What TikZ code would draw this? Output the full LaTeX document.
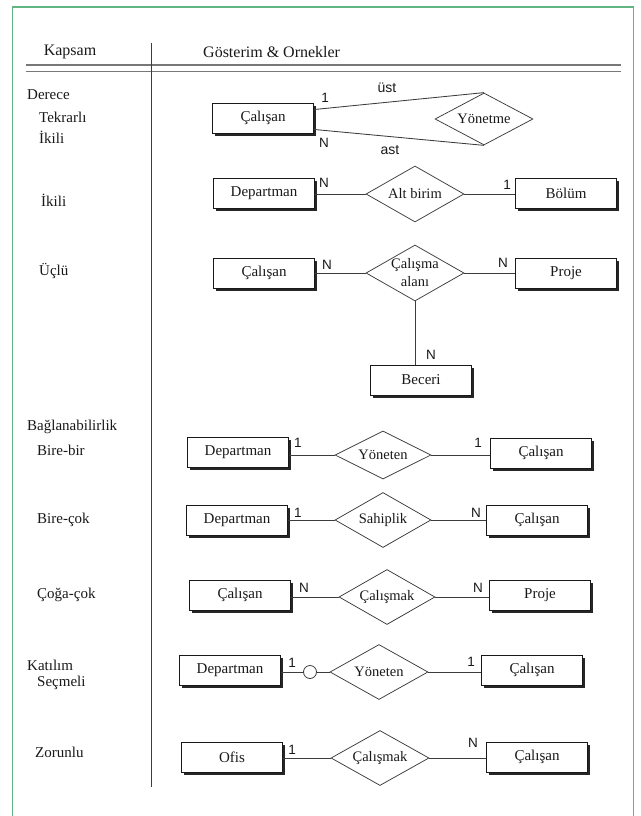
\documentclass[tikz,border=0pt]{standalone}
\usepackage{fontspec}
\setmainfont{Liberation Serif}
\newfontfamily\cardfont{Liberation Sans}
\usetikzlibrary{shapes.geometric,shadows}
\definecolor{frame}{RGB}{98,180,130}
\definecolor{ink}{RGB}{25,25,25}
\definecolor{wire}{RGB}{60,60,60}
\definecolor{rulegray}{RGB}{120,120,120}

\begin{document}
\begin{tikzpicture}[x=1pt,y=-1pt,
  ent/.style={draw=ink, line width=0.9pt, fill=white, minimum width=101pt,
    minimum height=30pt, inner sep=0pt, text=ink,
    font=\fontsize{15}{16}\selectfont,
    drop shadow={shadow xshift=2.8pt, shadow yshift=-2.8pt, fill=black!85, opacity=1}},
  reltext/.style={text=ink, inner sep=0pt, align=center,
    font=\fontsize{14.5}{18}\selectfont},
  rel/.style={diamond, draw=wire, line width=0.75pt, fill=white, inner sep=0pt,
    minimum width=97pt, minimum height=55pt, label={[reltext]center:#1}},
  conn/.style={draw=wire, line width=0.85pt},
  card/.style={text=ink, inner sep=0pt, font=\cardfont\fontsize{13.5}{15}\selectfont},
  cat/.style={anchor=west, text=ink, inner sep=0pt, font=\fontsize{15}{16}\selectfont},
  head/.style={text=ink, inner sep=0pt, font=\fontsize{16}{18}\selectfont}
]
% page and frame
\useasboundingbox (0,0) rectangle (640,816);
\fill[white] (0,0) rectangle (640,816);
\draw[frame, line width=1.8pt] (12.5,816) -- (12.5,7) -- (633.5,7) -- (633.5,816);

% table header and rules
\node[head] (hk) at (70,52) {Kapsam};
\node[head, anchor=west] (hg) at (203,52) {Gösterim \& Ornekler};
\draw[rulegray, line width=1.6pt] (26,65) -- (621,65);
\draw[rulegray, line width=1.6pt] (26,71.5) -- (621,71.5);
\draw[wire, line width=0.9pt] (151,43) -- (151,787);

% left column
\node[cat] (k1) at (27,95) {Derece};
\node[cat] (k2) at (39,117) {Tekrarlı};
\node[cat] (k3) at (39,137) {İkili};
\node[cat] (k4) at (41,200) {İkili};
\node[cat] (k5) at (39,271) {Üçlü};
\node[cat] (k6) at (27,427) {Bağlanabilirlik};
\node[cat] (k7) at (37,450) {Bire-bir};
\node[cat] (k8) at (37,520) {Bire-çok};
\node[cat] (k9) at (37,595) {Çoğa-çok};
\node[cat] (k10) at (27,665) {Katılım};
\node[cat] (k11) at (37,683) {Seçmeli};
\node[cat] (k12) at (35,752) {Zorunlu};

% recursive relationship
\node[ent] (e1) at (263,118) {Çalışan};
\node[rel=Yönetme, minimum width=98pt, minimum height=52pt] (r1) at (484,119) {};
\draw[conn] ([yshift=-7pt]e1.north east) -- (r1.north);
\draw[conn] ([yshift=4pt]e1.south east) -- (r1.south);
\node[card] (c1a) at (325,98) {1};
\node[card, font=\cardfont\fontsize{14}{15}\selectfont] (c1b) at (387,88) {üst};
\node[card] (c1c) at (324,143) {N};
\node[card, font=\cardfont\fontsize{14}{15}\selectfont] (c1d) at (390,150) {ast};

% binary relationship
\node[ent] (e2a) at (264,193) {Departman};
\node[rel=Alt birim, minimum width=98pt, minimum height=56pt] (r2) at (415,194) {};
\node[ent] (e2b) at (566,193) {Bölüm};
\draw[conn] (r2.west -| e2a.east) -- (r2.west);
\draw[conn] (r2.east) -- (r2.east -| e2b.west);
\node[card] (c2a) at (324,183) {N};
\node[card] (c2b) at (507,185) {1};

% ternary relationship
\node[ent] (e3a) at (264,273) {Çalışan};
\node[rel={Çalışma\\alanı}, minimum width=98pt, minimum height=56pt] (r3) at (415,273) {};
\node[ent] (e3b) at (566,273) {Proje};
\node[ent] (e3c) at (421,380) {Beceri};
\draw[conn] (r3.west -| e3a.east) -- (r3.west);
\draw[conn] (r3.east) -- (r3.east -| e3b.west);
\draw[conn] (r3.south) -- (r3.south |- e3c.north);
\node[card] (c3a) at (327,265) {N};
\node[card] (c3b) at (503,263) {N};
\node[card] (c3c) at (431,355) {N};

% one-to-one
\node[ent] (e4a) at (238,452) {Departman};
\node[rel=Yöneten, minimum width=96pt, minimum height=48pt] (r4) at (383,455) {};
\node[ent] (e4b) at (541,453) {Çalışan};
\draw[conn] (r4.west -| e4a.east) -- (r4.west);
\draw[conn] (r4.east) -- (r4.east -| e4b.west);
\node[card] (c4a) at (298,443) {1};
\node[card] (c4b) at (478,443) {1};

% one-to-many
\node[ent] (e5a) at (237,520) {Departman};
\node[rel=Sahiplik, minimum width=96pt] (r5) at (383,520) {};
\node[ent] (e5b) at (537,520) {Çalışan};
\draw[conn] (r5.west -| e5a.east) -- (r5.west);
\draw[conn] (r5.east) -- (r5.east -| e5b.west);
\node[card] (c5a) at (298,513) {1};
\node[card] (c5b) at (476,513) {N};

% many-to-many
\node[ent] (e6a) at (240,595) {Çalışan};
\node[rel=Çalışmak, minimum width=96pt] (r6) at (387,597) {};
\node[ent] (e6b) at (540,595) {Proje};
\draw[conn] (r6.west -| e6a.east) -- (r6.west);
\draw[conn] (r6.east) -- (r6.east -| e6b.west);
\node[card] (c6a) at (304,588) {N};
\node[card] (c6b) at (478,588) {N};

% optional participation
\node[ent] (e7a) at (230,670) {Departman};
\node[rel=Yöneten, minimum width=98pt] (r7) at (379,672) {};
\node[ent] (e7b) at (532,670) {Çalışan};
\node[circle, draw=wire, line width=0.8pt, fill=white, minimum size=13pt, inner sep=0pt] (o7) at (310,672) {};
\draw[conn] (o7.west -| e7a.east) -- (o7.west);
\draw[conn] (o7.east) -- (r7.west);
\draw[conn] (r7.east) -- (r7.east -| e7b.west);
\node[card] (c7a) at (292,663) {1};
\node[card] (c7b) at (471,662) {1};

% mandatory participation
\node[ent] (e8a) at (232,757) {Ofis};
\node[rel=Çalışmak, minimum width=98pt] (r8) at (380,758) {};
\node[ent] (e8b) at (537,757) {Çalışan};
\draw[conn] (r8.west -| e8a.east) -- (r8.west);
\draw[conn] (r8.east) -- (r8.east -| e8b.west);
\node[card] (c8a) at (292,750) {1};
\node[card] (c8b) at (473,743) {N};
\end{tikzpicture}
\end{document}
